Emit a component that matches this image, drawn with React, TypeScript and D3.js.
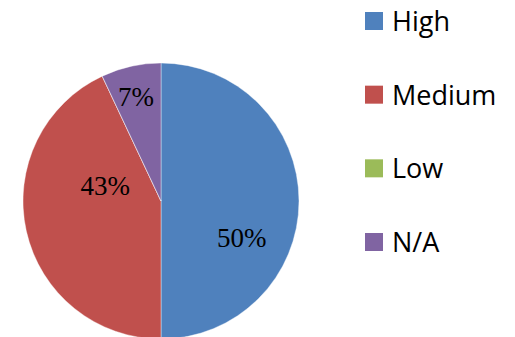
import React from 'react';
import * as d3 from 'd3';

const categories = ['High', 'Medium', 'Low', 'N/A'];
const values = [50, 43, 0, 7];
const colors = ['#4F81BD', '#C0504D', '#9BBB59', '#8064A2'];

const width = 515;
const height = 337;
const cx = 161;
const cy = 201;
const radius = 138;

// excel "best fit" puts labels a bit off the centroid
const labelNudge = [[-2, 37], [25, -33], [0, 0], [-7, -23]];

export default function App() {
  const pie = d3.pie<number>().sort(null).value((d) => d);
  const arcs = pie(values);
  const arcGen = d3.arc<d3.PieArcDatum<number>>().innerRadius(0).outerRadius(radius);
  const labelArc = d3.arc<d3.PieArcDatum<number>>().innerRadius(radius * 0.6).outerRadius(radius * 0.6);
  const total = d3.sum(values);

  const legendY = d3.scalePoint<string>().domain(categories).range([21, 242]);

  return (
    <svg width={width} height={height} style={{ position: 'absolute', left: 0, top: 0, background: '#fff' }}>
      <g transform={`translate(${cx},${cy})`}>
        {arcs.map((a, i) => (
          <path key={i} d={arcGen(a) || ''} fill={colors[i]} stroke="#fff" strokeWidth={0.4} />
        ))}
        {arcs.map((a, i) => {
          if (a.data === 0) return null;
          const [x, y] = labelArc.centroid(a);
          return (
            <text key={i} x={x + labelNudge[i][0]} y={y + labelNudge[i][1]} textAnchor="middle"
              dominantBaseline="central" fontFamily="Liberation Serif" fontSize={27} fill="#000">
              {Math.round((a.data / total) * 100)}%
            </text>
          );
        })}
      </g>
      {categories.map((c, i) => (
        <g key={c} transform={`translate(365,${legendY(c)})`}>
          <rect x={0} y={-9} width={18} height={18} fill={colors[i]} />
          <text x={27} y={10} fontFamily="Open Sans" fontSize={27} fill="#000">{c}</text>
        </g>
      ))}
    </svg>
  );
}
